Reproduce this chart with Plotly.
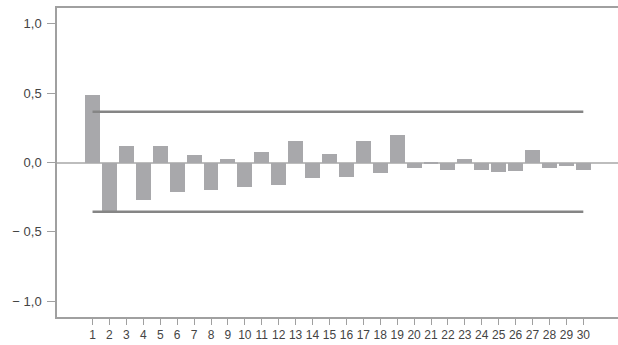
import plotly.graph_objects as go

lags = list(range(1, 31))
acf_values = [0.489, -0.349, 0.120, -0.267, 0.120, -0.209, 0.056, -0.195, 0.027, -0.180,
              0.077, -0.159, 0.157, -0.115, 0.063, -0.108, 0.157, -0.079, 0.200, -0.043,
              -0.014, -0.051, 0.027, -0.051, -0.065, -0.058, 0.092, -0.043, -0.022, -0.051]
upper_bound = [0.365, 0.365]
lower_bound = [-0.355, -0.355]
bound_x = [1, 30]
y_tick_vals = [1.0, 0.5, 0.0, -0.5, -1.0]
y_tick_text = ["1,0", "0,5", "0,0", "\u2212 0,5", "\u2212 1,0"]
x_tick_text = [str(v) for v in lags]

font_family = "Liberation Sans, Arial, sans-serif"

fig = go.Figure()
fig.add_trace(go.Bar(x=lags, y=acf_values, width=0.88,
                     marker=dict(color="#a8a8ab", line=dict(width=0)),
                     showlegend=False, hoverinfo="skip"))
fig.add_trace(go.Scatter(x=bound_x, y=upper_bound, mode="lines",
                         line=dict(color="#858585", width=2.5),
                         showlegend=False, hoverinfo="skip"))
fig.add_trace(go.Scatter(x=bound_x, y=lower_bound, mode="lines",
                         line=dict(color="#858585", width=2.5),
                         showlegend=False, hoverinfo="skip"))

fig.update_layout(
    width=618, height=345,
    margin=dict(l=57, r=0, t=8, b=28),
    paper_bgcolor="white", plot_bgcolor="white",
    bargap=0,
    font=dict(family=font_family, size=12, color="#444"),
    xaxis=dict(range=[-1.1, 32.05], tickmode="array", tickvals=lags, ticktext=x_tick_text,
               showgrid=False, zeroline=False, showline=True, linecolor="#a0a0a0", linewidth=1.5,
               mirror=True, ticks="outside", ticklen=6, tickcolor="#a0a0a0",
               tickfont=dict(size=12, color="#444")),
    yaxis=dict(range=[-1.113, 1.113], tickmode="array", tickvals=y_tick_vals, ticktext=y_tick_text,
               showgrid=False, zeroline=True, zerolinecolor="#bdbdbd", zerolinewidth=1.5,
               showline=True, linecolor="#a0a0a0", linewidth=1.5,
               ticks="outside", ticklen=8, tickcolor="#a0a0a0", ticklabelstandoff=3,
               tickfont=dict(size=13, color="#444")),
)

fig.write_html("out.html", config={"displayModeBar": False},
               post_script="document.body.style.margin='0';document.body.style.overflow='hidden';")
